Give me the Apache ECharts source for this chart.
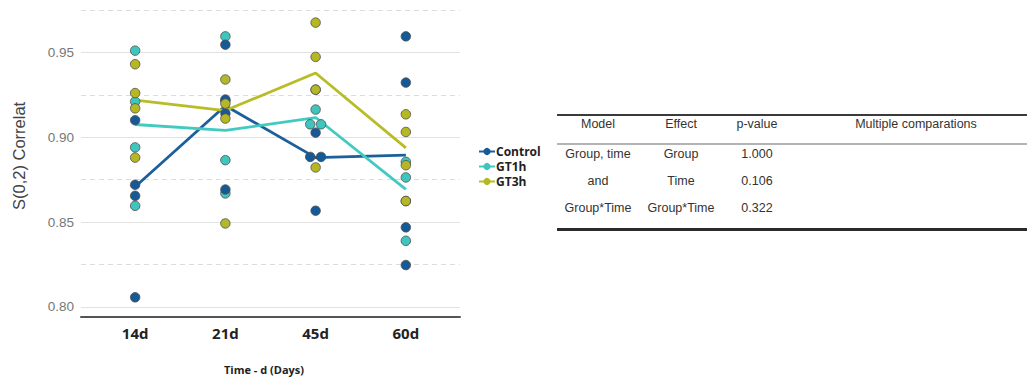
<!DOCTYPE html>
<html>
<head>
<meta charset="utf-8">
<script src="https://cdn.jsdelivr.net/npm/echarts@6/dist/echarts.min.js"></script>
<style>
  html, body { margin: 0; padding: 0; background: #ffffff; }
  #chart { width: 1027px; height: 381px; }
</style>
</head>
<body>
<div id="chart"></div>
<script>
// Sampling days on the x axis
const categories = ['14d', '21d', '45d', '60d'];
const groups = ['Control', 'GT1h', 'GT3h'];

// Individual S(0,2) correlation values, one list of four samples per day
const controlValues = [
  [0.9100, 0.8720, 0.8655, 0.8057],
  [0.9545, 0.9222, 0.9140, 0.8692],
  [0.9027, 0.8884, 0.8884, 0.8567],
  [0.9594, 0.9322, 0.8469, 0.8247]
];
const gt1hValues = [
  [0.9510, 0.9210, 0.8940, 0.8596],
  [0.9594, 0.9215, 0.8865, 0.8669],
  [0.9280, 0.9163, 0.9076, 0.9076],
  [0.8855, 0.8763, 0.8624, 0.8390]
];
const gt3hValues = [
  [0.9430, 0.9260, 0.9170, 0.8880],
  [0.9340, 0.9198, 0.9110, 0.8492],
  [0.9675, 0.9473, 0.9280, 0.8822],
  [0.9135, 0.9031, 0.8835, 0.8624]
];

// Median per day for each group (connecting lines)
const controlMedian = [0.8708, 0.9185, 0.8880, 0.8895];
const gt1hMedian = [0.9075, 0.9040, 0.9116, 0.8693];
const gt3hMedian = [0.9218, 0.9157, 0.9378, 0.8937];

// Y axis ticks: labelled solid lines and dashed minor lines
const yTicks = [0.80, 0.85, 0.90, 0.95];
const yMinorTicks = [0.825, 0.875, 0.925, 0.975];

// Statistics table
const tableHeader = ['Model', 'Effect', 'p-value', 'Multiple comparations'];
const tableModel = ['Group, time', 'and', 'Group*Time'];
const tableEffect = ['Group', 'Time', 'Group*Time'];
const tablePValue = ['1.000', '0.106', '0.322'];

const colors = { Control: '#155a96', GT1h: '#3ec6be', GT3h: '#b5b823' };
const lineColors = { Control: '#1b5f9b', GT1h: '#42cac2', GT3h: '#b8bc27' };
const pointZ = { Control: 4, GT1h: 3, GT3h: 5 };

// Place samples at their day index; identical values in the same day are dodged sideways
function dodgePoints(values) {
  const out = [];
  values.forEach((list, i) => {
    const counts = {};
    list.forEach(v => { counts[v] = (counts[v] || 0) + 1; });
    const seen = {};
    list.forEach(v => {
      const n = counts[v];
      const k = seen[v] || 0;
      seen[v] = k + 1;
      const off = n > 1 ? (k - (n - 1) / 2) * 0.12 : 0;
      out.push([i + off, v]);
    });
  });
  return out;
}

const seriesValues = { Control: controlValues, GT1h: gt1hValues, GT3h: gt3hValues };
const seriesMedian = { Control: controlMedian, GT1h: gt1hMedian, GT3h: gt3hMedian };

const series = [];
groups.forEach(g => {
  series.push({
    name: g,
    type: 'line',
    data: seriesMedian[g].map((v, i) => [i, v]),
    symbol: 'circle',
    symbolSize: 7,
    showSymbol: false,
    lineStyle: { width: 2.8, color: lineColors[g] },
    itemStyle: { color: colors[g] },
    z: 2,
    silent: true,
    animation: false
  });
});
groups.forEach(g => {
  series.push({
    name: g,
    type: 'scatter',
    data: dodgePoints(seriesValues[g]),
    symbol: 'circle',
    symbolSize: 9.5,
    itemStyle: { color: colors[g], borderColor: '#4d4d4d', borderWidth: 0.8, opacity: 1 },
    z: pointZ[g],
    silent: true,
    animation: false
  });
});

// Table drawn with graphic elements
const tableLeft = 557, tableRight = 1027;
const colX = [598, 681, 757, 916];
const headerY = 123.5;
const rowY = [153.5, 180.5, 208];
const textFont = '12.5px "Liberation Sans", Arial, sans-serif';
const graphic = [];
graphic.push({ type: 'line', shape: { x1: tableLeft, y1: 115, x2: tableRight, y2: 115 },
  style: { stroke: '#3a3a3a', lineWidth: 2 } });
graphic.push({ type: 'line', shape: { x1: tableLeft, y1: 144, x2: tableRight, y2: 144 },
  style: { stroke: '#6a6a6a', lineWidth: 1.2 } });
graphic.push({ type: 'line', shape: { x1: tableLeft, y1: 229.5, x2: tableRight, y2: 229.5 },
  style: { stroke: '#2a2a2a', lineWidth: 2.8 } });
tableHeader.forEach((t, j) => {
  graphic.push({ type: 'text', x: colX[j], y: headerY,
    style: { text: t, font: textFont, fill: '#333', align: 'center', verticalAlign: 'middle' } });
});
[tableModel, tableEffect, tablePValue].forEach((col, j) => {
  col.forEach((t, i) => {
    graphic.push({ type: 'text', x: colX[j], y: rowY[i],
      style: { text: t, font: textFont, fill: '#333', align: 'center', verticalAlign: 'middle' } });
  });
});

const chart = echarts.init(document.getElementById('chart'), null, { renderer: 'svg' });
chart.setOption({
  animation: false,
  backgroundColor: '#ffffff',
  grid: { left: 81, right: 567, top: 1.4, bottom: 64.5, containLabel: false },
  legend: {
    data: groups,
    orient: 'vertical',
    left: 478,
    top: 144,
    padding: 0,
    itemWidth: 16,
    itemHeight: 9,
    itemGap: 0,
    selectedMode: false,
    textStyle: { fontFamily: '"Open Sans", sans-serif', fontWeight: 'bold', fontSize: 12, lineHeight: 15, color: '#222', padding: [0, 0, 0, -4] }
  },
  xAxis: {
    type: 'value',
    min: -0.6,
    max: 3.6,
    name: 'Time - d (Days)',
    nameLocation: 'middle',
    nameGap: 47,
    nameTextStyle: { fontFamily: '"Open Sans", sans-serif', fontWeight: 'bold', fontSize: 11, color: '#222', padding: [0, 13, 0, 0] },
    axisLine: { show: true, onZero: false, lineStyle: { color: '#555', width: 2 } },
    axisTick: { show: false, customValues: [0, 1, 2, 3] },
    axisLabel: {
      customValues: [0, 1, 2, 3],
      formatter: v => categories[Math.round(v)],
      fontFamily: '"Open Sans", sans-serif',
      fontWeight: 'bold',
      fontSize: 15,
      color: '#222',
      margin: 9
    },
    splitLine: { show: false }
  },
  yAxis: [
    {
      type: 'value',
      min: 0.7944,
      max: 0.98,
      name: 'S(0,2) Correlat',
      nameLocation: 'middle',
      nameGap: 54,
      nameTextStyle: { fontFamily: '"Liberation Sans", Arial, sans-serif', fontSize: 16.5, color: '#444', padding: [0, 0, 0, 6] },
      axisLine: { show: false },
      axisTick: { show: false, customValues: yTicks },
      axisLabel: {
        customValues: yTicks,
        formatter: v => v.toFixed(2),
        fontFamily: '"Liberation Sans", Arial, sans-serif',
        fontSize: 13.5,
        color: '#777',
        margin: 7
      },
      splitLine: { show: true, lineStyle: { color: '#e2e2e2', width: 1.2, type: 'solid' } }
    },
    {
      type: 'value',
      min: 0.7944,
      max: 0.98,
      position: 'left',
      axisLine: { show: false },
      axisTick: { show: false, customValues: yMinorTicks },
      axisLabel: { show: false },
      splitLine: { show: true, lineStyle: { color: '#dcdcdc', width: 1, type: [5, 4] } }
    }
  ],
  series: series,
  graphic: graphic
});
</script>
</body>
</html>
